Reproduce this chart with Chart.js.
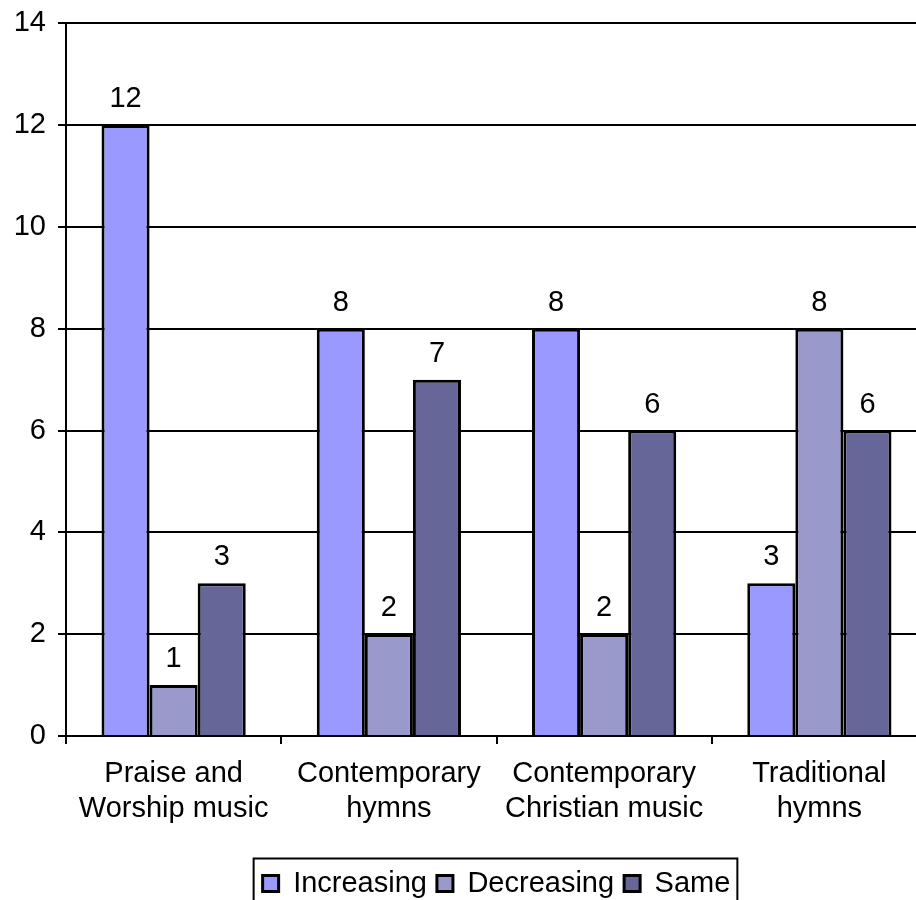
<!DOCTYPE html>
<html>
<head>
<meta charset="utf-8">
<script src="https://cdn.jsdelivr.net/npm/chart.js@4/dist/chart.umd.min.js"></script>
<style>
  html, body { margin: 0; padding: 0; background: #fff; overflow: hidden; }
  #wrap { width: 990px; height: 908px; }
</style>
</head>
<body>
<div id="wrap"><canvas id="chart" width="990" height="908"></canvas></div>
<script>
const categories = [["Praise and", "Worship music"], ["Contemporary", "hymns"], ["Contemporary", "Christian music"], ["Traditional", "hymns"]];
const increasing = [12, 8, 8, 3];
const decreasing = [1, 2, 2, 8];
const same = [3, 7, 6, 6];
const yTicks = [0, 2, 4, 6, 8, 10, 12, 14];

const font = "'Liberation Sans', Arial, sans-serif";
const fontSize = 29;
const legendShift = 33;

// value labels over the bars
const barLabels = {
  id: "barLabels",
  afterDatasetsDraw(chart) {
    const ctx = chart.ctx;
    ctx.save();
    ctx.font = fontSize + "px " + font;
    ctx.fillStyle = "#000";
    ctx.textAlign = "center";
    ctx.textBaseline = "alphabetic";
    chart.data.datasets.forEach((ds, i) => {
      chart.getDatasetMeta(i).data.forEach((bar, j) => {
        ctx.fillText(ds.data[j], bar.x, bar.y - 18);
      });
    });
    ctx.restore();
  }
};

// legend centred under the plot area, with a frame round it
const legendBox = {
  id: "legendBox",
  afterLayout(chart) {
    const lg = chart.legend;
    lg.left += legendShift;
    lg.right += legendShift;
  },
  afterDraw(chart) {
    const lg = chart.legend;
    if (!lg || !lg.legendHitBoxes.length) return;
    const rowW = lg.lineWidths[0];
    const start = (lg.left + lg.right - rowW) / 2;
    const x0 = start - 4;
    const x1 = start + rowW + 2;
    const hb = lg.legendHitBoxes[0];
    const cy = hb.top + hb.height / 2;
    const ctx = chart.ctx;
    ctx.save();
    ctx.strokeStyle = "#000";
    ctx.lineWidth = 2;
    ctx.strokeRect(x0, cy - 25, x1 - x0, 50);
    ctx.restore();
  }
};

const myChart = new Chart(document.getElementById("chart"), {
  type: "bar",
  data: {
    labels: categories,
    datasets: [
      { label: "Increasing", data: increasing, backgroundColor: "#9999FF" },
      { label: "Decreasing", data: decreasing, backgroundColor: "#9999CC" },
      { label: "Same", data: same, backgroundColor: "#666699" }
    ].map(d => Object.assign(d, { borderColor: "#000", borderWidth: 3, categoryPercentage: 0.67, barPercentage: 1 }))
  },
  options: {
    responsive: false,
    animation: false,
    layout: { padding: { left: 0, right: 63, top: 0, bottom: 0 } },
    plugins: {
      tooltip: { enabled: false },
      legend: {
        position: "bottom",
        labels: {
          font: { family: font, size: fontSize },
          color: "#000",
          boxWidth: 16,
          boxHeight: 16,
          padding: 10,
          useBorderRadius: false
        }
      }
    },
    scales: {
      x: {
        grid: { display: true, drawOnChartArea: false, color: "#000", lineWidth: 2, tickLength: 8, offset: true },
        border: { color: "#000", width: 2 },
        ticks: { font: { family: font, size: fontSize, lineHeight: 1.2 }, color: "#000", padding: 13, maxRotation: 0 },
        afterFit(scale) { scale.height = 123; }
      },
      y: {
        min: 0,
        max: 14,
        afterBuildTicks(scale) { scale.ticks = yTicks.map(v => ({ value: v })); },
        grid: { color: "#000", lineWidth: 2, tickLength: 8 },
        border: { color: "#000", width: 2 },
        ticks: { font: { family: font, size: fontSize, lineHeight: 0.78 }, color: "#000", padding: 12 },
        afterFit(scale) { scale.width = 66; }
      }
    }
  },
  plugins: [barLabels, legendBox]
});
</script>
</body>
</html>
